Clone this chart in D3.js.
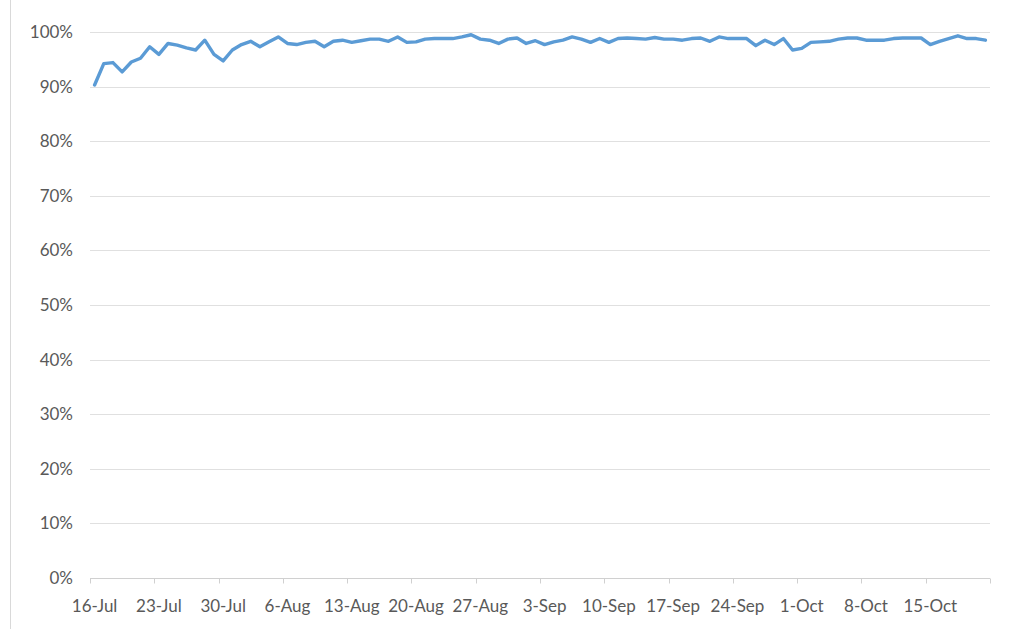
<!DOCTYPE html>
<html>
<head>
<meta charset="utf-8">
<script src="https://cdn.jsdelivr.net/npm/d3@7/dist/d3.min.js"></script>
<style>
  html, body { margin: 0; padding: 0; background: #fff; }
  svg { display: block; }
  text { font-family: Lato, "Open Sans", sans-serif; fill: #595959; }
</style>
</head>
<body>
<svg id="chart" width="1009" height="629"></svg>
<script>
// Daily categories, 16 Jul through 21 Oct
const startDay = new Date(Date.UTC(2018, 6, 16));
const endDay = new Date(Date.UTC(2018, 9, 22));
const days = d3.utcDay.range(startDay, endDay);

// Daily rate (%)
const rates = [
  90.3, 94.2, 94.4, 92.7, 94.5, 95.2, 97.3, 95.9, 97.9, 97.6,
  97.1, 96.7, 98.5, 95.9, 94.7, 96.7, 97.7, 98.3, 97.3, 98.2,
  99.1, 97.9, 97.7, 98.1, 98.3, 97.3, 98.3, 98.5, 98.1, 98.4,
  98.7, 98.7, 98.3, 99.1, 98.1, 98.2, 98.7, 98.8, 98.8, 98.8,
  99.1, 99.5, 98.7, 98.5, 97.9, 98.7, 98.9, 97.9, 98.4, 97.7,
  98.2, 98.5, 99.1, 98.7, 98.1, 98.8, 98.1, 98.8, 98.9, 98.8,
  98.7, 99.0, 98.7, 98.7, 98.5, 98.8, 98.9, 98.3, 99.1, 98.8,
  98.8, 98.8, 97.5, 98.5, 97.7, 98.8, 96.7, 97.0, 98.1, 98.2,
  98.3, 98.7, 98.9, 98.9, 98.5, 98.5, 98.5, 98.8, 98.9, 98.9,
  98.9, 97.7, 98.3, 98.8, 99.3, 98.8, 98.8, 98.5
];

const yTicks = [0, 10, 20, 30, 40, 50, 60, 70, 80, 90, 100];
const tickEvery = 7;
const fmtDay = d3.utcFormat("%-d-%b");

const svg = d3.select("#chart");

const plotLeft = 90, plotRight = 990, plotTop = 32, plotBottom = 578;
const labelFont = "Lato, \"Open Sans\", sans-serif";
const labelSize = 17;

const x = d3.scaleBand().domain(days).range([plotLeft, plotRight]).padding(0);
const y = d3.scaleLinear().domain([0, 100]).range([plotBottom, plotTop]);

// frame edge
svg.append("line")
  .attr("x1", 10.5).attr("x2", 10.5).attr("y1", 0).attr("y2", 629)
  .attr("stroke", "#d9d9d9").attr("stroke-width", 1);

// horizontal gridlines
svg.append("g")
  .selectAll("line")
  .data(yTicks.filter(t => t > 0))
  .join("line")
  .attr("x1", plotLeft).attr("x2", plotRight)
  .attr("y1", d => Math.round(y(d)) + 0.5)
  .attr("y2", d => Math.round(y(d)) + 0.5)
  .attr("stroke", "#e0e0e0").attr("stroke-width", 1);

// y axis labels
svg.append("g")
  .selectAll("text")
  .data(yTicks)
  .join("text")
  .attr("x", 73)
  .attr("y", d => y(d))
  .attr("dy", "0.35em")
  .attr("text-anchor", "end")
  .attr("font-size", labelSize)
  .text(d => d + "%");

// x axis line and week tick marks
const weekDays = days.filter((d, i) => i % tickEvery === 0);
const xAxis = d3.axisBottom(x)
  .tickValues(weekDays)
  .tickSize(0)
  .tickFormat(fmtDay);

const gx = svg.append("g").attr("transform", `translate(0,${Math.round(plotBottom) + 0.5})`);
gx.append("line")
  .attr("x1", plotLeft).attr("x2", plotRight)
  .attr("stroke", "#d0d0d0").attr("stroke-width", 1);
gx.selectAll("line.wk")
  .data(weekDays.concat([endDay]))
  .join("line")
  .attr("class", "wk")
  .attr("x1", d => Math.round(d < endDay ? x(d) : plotRight) + 0.5)
  .attr("x2", d => Math.round(d < endDay ? x(d) : plotRight) + 0.5)
  .attr("y1", 0).attr("y2", 5)
  .attr("stroke", "#d0d0d0").attr("stroke-width", 1);

const gxl = svg.append("g").attr("transform", `translate(0,${plotBottom})`).call(xAxis);
gxl.select(".domain").remove();
gxl.selectAll("text")
  .attr("font-size", labelSize)
  .attr("font-family", labelFont)
  .attr("fill", "#595959")
  .attr("dy", 0)
  .attr("y", 34);

// rate line
const line = d3.line()
  .x((d, i) => x(days[i]) + x.bandwidth() / 2)
  .y(d => y(d));

svg.append("path")
  .datum(rates)
  .attr("d", line)
  .attr("fill", "none")
  .attr("stroke", "#5b9bd5")
  .attr("stroke-width", 3.4)
  .attr("stroke-linejoin", "round")
  .attr("stroke-linecap", "round");
</script>
</body>
</html>
